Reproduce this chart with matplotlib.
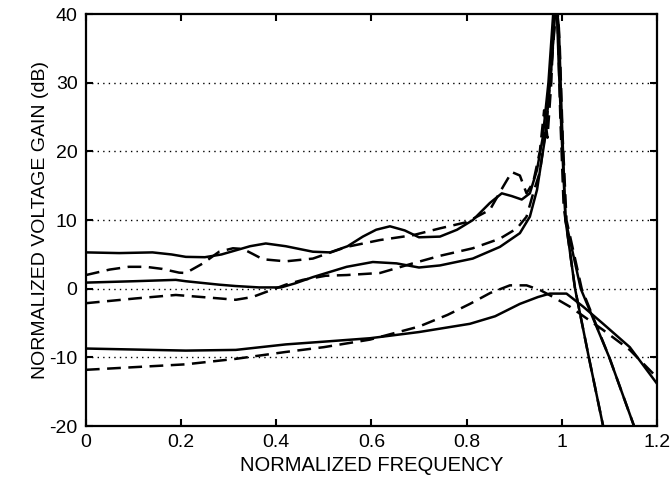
import matplotlib.pyplot as plt

plt.rcParams['font.family'] = ['Liberation Sans', 'DejaVu Sans']
plt.rcParams['axes.unicode_minus'] = False

# upper pair (starts near 5 dB / 2 dB)
xa_s = [0, 0.07, 0.14, 0.18, 0.21, 0.25, 0.285, 0.315, 0.345, 0.378, 0.42, 0.477, 0.513, 0.55,
        0.582, 0.61, 0.639, 0.67, 0.70, 0.744, 0.78, 0.813, 0.849, 0.874, 0.895, 0.916, 0.933,
        0.948, 0.96, 0.972, 0.982, 0.988, 0.994, 1.0, 1.008, 1.028, 1.057, 1.087, 1.1]
ya_s = [5.3, 5.2, 5.3, 5.0, 4.65, 4.6, 5.0, 5.6, 6.2, 6.6, 6.2, 5.4, 5.3, 6.2,
        7.6, 8.6, 9.1, 8.5, 7.5, 7.6, 8.6, 10.0, 12.5, 13.9, 13.5, 13.0, 13.9,
        17.3, 22, 30, 40, 44, 32, 22, 10, 0, -10, -20, -24]

xa_d = [0, 0.05, 0.09, 0.126, 0.16, 0.196, 0.21, 0.246, 0.28, 0.309, 0.33, 0.35, 0.372, 0.42,
        0.477, 0.548, 0.618, 0.687, 0.744, 0.80, 0.849, 0.877, 0.895, 0.912, 0.926, 0.94, 0.954,
        0.963, 0.97, 0.978, 0.985, 0.991, 0.997, 1.004, 1.028, 1.057, 1.087, 1.1]
ya_d = [2.0, 2.8, 3.2, 3.2, 2.9, 2.35, 2.3, 3.7, 5.4, 5.9, 5.8, 5.1, 4.3, 4.0,
        4.4, 6.1, 7.1, 7.8, 8.8, 9.7, 11.5, 14.9, 17.0, 16.5, 13.9, 15.5, 20,
        26, 22, 30, 42, 40, 25, 12, 0, -10, -20, -24]

# middle pair (starts near 1 dB / -2 dB)
xb_s = [0, 0.1, 0.189, 0.21, 0.28, 0.315, 0.364, 0.41, 0.44, 0.477, 0.548, 0.603, 0.653, 0.70,
        0.744, 0.813, 0.870, 0.912, 0.933, 0.948, 0.965, 0.978, 0.988, 0.994, 1.0, 1.008, 1.04,
        1.10, 1.152, 1.16]
yb_s = [0.9, 1.1, 1.3, 1.1, 0.6, 0.4, 0.2, 0.2, 0.8, 1.7, 3.2, 3.9, 3.7, 3.1,
        3.4, 4.4, 6.1, 8.1, 10.5, 14.4, 22, 32, 42, 38, 25, 10, 0,
        -10, -20, -21.5]

xb_d = [0, 0.105, 0.189, 0.28, 0.315, 0.35, 0.385, 0.42, 0.456, 0.504, 0.548, 0.618, 0.687,
        0.744, 0.813, 0.870, 0.906, 0.926, 0.94, 0.954, 0.968, 0.98, 0.99, 0.996, 1.002, 1.01,
        1.042, 1.10, 1.152, 1.16]
yb_d = [-2.1, -1.4, -0.9, -1.4, -1.6, -1.2, -0.3, 0.6, 1.3, 1.9, 2.0, 2.3, 3.7,
        4.8, 5.9, 7.3, 8.8, 10.5, 13.9, 17, 24, 34, 42, 35, 22, 10,
        0, -10, -20, -21.5]

# lower pair (broad peaks)
xc_s = [0, 0.21, 0.315, 0.42, 0.5, 0.597, 0.70, 0.807, 0.86, 0.912, 0.95, 0.975, 1.01,
        1.045, 1.087, 1.143, 1.2]
yc_s = [-8.7, -9.0, -8.9, -8.1, -7.7, -7.2, -6.3, -5.1, -4.0, -2.2, -1.2, -0.7, -0.7,
        -2.6, -5.1, -8.5, -13.8]

xc_d = [0, 0.21, 0.315, 0.42, 0.5, 0.597, 0.70, 0.76, 0.807, 0.85, 0.891, 0.926, 0.955,
        0.982, 1.017, 1.05, 1.087, 1.143, 1.2]
yc_d = [-11.8, -11.0, -10.2, -9.2, -8.5, -7.4, -5.5, -3.8, -2.2, -0.6, 0.5, 0.5, -0.2,
        -1.2, -2.6, -4.2, -6.0, -8.9, -12.9]

fig = plt.figure(figsize=(6.71, 4.87), dpi=100)
ax = fig.add_axes([0.128, 0.125, 0.851, 0.846])

dash = (0, (5.5, 3))
for xs, ys, ls in [(xa_s, ya_s, '-'), (xa_d, ya_d, dash),
                   (xb_s, yb_s, '-'), (xb_d, yb_d, dash),
                   (xc_s, yc_s, '-'), (xc_d, yc_d, dash)]:
    ax.plot(xs, ys, color='black', lw=1.8, linestyle=ls)

for g in [-10, 0, 10, 20, 30]:
    ax.axhline(g, color='black', lw=1.0, linestyle=(0, (1, 3)), zorder=0)

ax.set_xlim(0, 1.2)
ax.set_ylim(-20, 40)
ax.set_xticks([0, 0.2, 0.4, 0.6, 0.8, 1, 1.2])
ax.set_xticklabels(['0', '0.2', '0.4', '0.6', '0.8', '1', '1.2'])
ax.set_yticks([-20, -10, 0, 10, 20, 30, 40])
ax.tick_params(direction='in', top=True, right=True, length=5, width=1.5,
               labelsize=14, pad=6)
for s in ax.spines.values():
    s.set_linewidth(1.6)

ax.set_xlabel('NORMALIZED FREQUENCY', fontsize=14.5, labelpad=3)
ax.set_ylabel('NORMALIZED VOLTAGE GAIN (dB)', fontsize=14, labelpad=0)

fig.savefig('out.png', dpi=100)
